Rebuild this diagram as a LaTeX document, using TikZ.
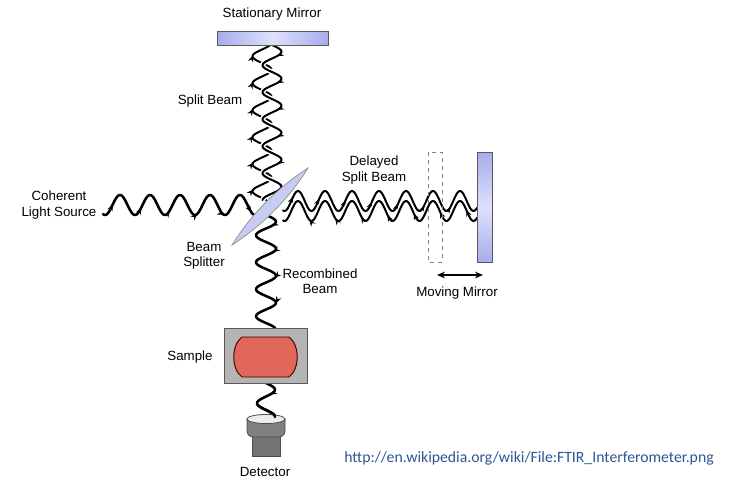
\documentclass[tikz,border=0pt]{standalone}
\usepackage{fontspec}
\setmainfont{Liberation Sans}
\newfontfamily\urlfont{Carlito}
\usetikzlibrary{arrows.meta,decorations.markings}

\definecolor{mirrorEdge}{RGB}{166,172,236}
\definecolor{mirrorMid}{RGB}{222,225,251}
\definecolor{splitterFill}{RGB}{198,204,242}
\definecolor{sampleBox}{RGB}{180,180,180}
\definecolor{sampleRed}{RGB}{224,103,90}
\definecolor{detBody}{RGB}{128,128,128}
\definecolor{detTop}{RGB}{236,236,236}
\definecolor{linkBlue}{RGB}{47,84,150}

\begin{document}
\begin{tikzpicture}[x=0.75pt,y=-0.75pt,
  lbl/.style={font=\fontsize{10}{11.5}\selectfont, align=center, inner sep=0pt},
  wave/.style={line width=1.9pt, line join=round, line cap=round},
  thinwave/.style={line width=1.5pt, line join=round, line cap=round,
    preaction={draw=white, line width=3.8pt}},
  tips/.style={postaction={decorate, decoration={markings,
    mark=between positions #1 and -6pt step 36pt with {\arrow{Stealth[length=5pt,width=4pt]}}}}},
  mirrorbar/.style={draw=black!65, line width=0.6pt},
]
\useasboundingbox (0,0) rectangle (730,480);

% ---- source beam, travelling right into the splitter
\draw[wave, tips=12pt] plot[domain=103:258, samples=140, variable=\t]
  (\t,{205-10*sin(360*((\t-112.5)/30))});

% ---- split beam to and from the stationary mirror
\draw[thinwave, tips=14pt] plot[domain=0:155, samples=140, variable=\t]
  ({262+9.5*sin(360*((110-\t)/27))},{200-\t});
\draw[thinwave, tips=14pt] plot[domain=45:200, samples=140, variable=\t]
  ({272+9.5*sin(360*((\t-45)/27))},\t);

% ---- delayed split beam to and from the moving mirror
\draw[thinwave, tips=14pt] plot[domain=283:477, samples=170, variable=\t]
  (\t,{201-10*sin(360*((\t-291.25)/27))});
\draw[thinwave, tips=14pt] plot[domain=0:194, samples=170, variable=\t]
  ({477-\t},{211-10*sin(360*((185.75-\t)/27))});

% ---- recombined beam down to the sample and on to the detector
\draw[wave, tips=14pt] plot[domain=215:328, samples=110, variable=\t]
  ({266+10*sin(360*((\t-215)/27))},\t);
\draw[wave, tips=14pt] plot[domain=383:417, samples=40, variable=\t]
  ({266+9*sin(360*((\t-383)/27))},\t);

% ---- beam splitter (thin lens)
\draw[draw=black!45, line width=0.5pt, fill=splitterFill]
  (232,245) .. controls (251.6,213.7) and (277,188.1) .. (308,168)
            .. controls (288.4,199.3) and (263,224.9) .. cycle;

% ---- mirrors
\draw[mirrorbar, left color=mirrorEdge, right color=mirrorEdge, middle color=mirrorMid]
  (217,31) rectangle (328,45);
\draw[mirrorbar, top color=mirrorEdge, bottom color=mirrorEdge, middle color=mirrorMid]
  (477,152) rectangle (492,262);
\draw[black!50, dashed, line width=0.7pt] (428,152) rectangle (442,262);

% ---- mirror travel
\coordinate (travL) at (437,275);
\coordinate (travR) at (483,275);
\draw[{Stealth[length=6pt,width=5pt]}-{Stealth[length=6pt,width=5pt]}, line width=1.2pt]
  (travL) -- (travR);

% ---- sample cell
\draw[draw=black!65, line width=0.7pt, fill=sampleBox] (224,328) rectangle (307,383);
\draw[draw=black!75!red, line width=0.7pt, fill=sampleRed]
  (242,337) -- (289,337) .. controls (300,345) and (300,369) .. (289,377)
  -- (242,377) .. controls (231,369) and (231,345) .. cycle;

% ---- detector
\draw[draw=black!70, line width=0.6pt, fill=detBody!90!black]
  (252,434) rectangle (280,456);
\draw[draw=black!70, line width=0.6pt, fill=detBody]
  (247,419) -- (247,431) to[out=-90,in=180] (253,437) -- (279,437)
  to[out=0,in=-90] (285,431) -- (285,419) -- cycle;
\draw[draw=black!70, line width=0.6pt, fill=detTop] (266,419) ellipse (14.25pt and 3.4pt);
\draw[wave] plot[domain=405:417, samples=12, variable=\t]
  ({266+9*sin(360*((\t-383)/27))},\t);

% ---- labels
\node[lbl] (stm) at (272,14) {Stationary Mirror};
\node[lbl] (sbl) at (210,101) {Split Beam};
\node[lbl] (cls) at (59,205) {Coherent\\Light Source};
\node[lbl] (bsl) at (204,256) {Beam\\Splitter};
\node[lbl] (dsb) at (374,170) {Delayed\\Split Beam};
\node[lbl] (rcb) at (320,281) {Recombined\\Beam};
\node[lbl] (mml) at (457,293) {Moving Mirror};
\node[lbl] (sml) at (190,357) {Sample};
\node[lbl] (det) at (265,472) {Detector};
\node[inner sep=0pt, text=linkBlue, font=\urlfont\fontsize{11.8}{14}\selectfont] (src)
  at (529,458) {http://en.wikipedia.org/wiki/File:FTIR\_Interferometer.png};
\end{tikzpicture}
\end{document}
